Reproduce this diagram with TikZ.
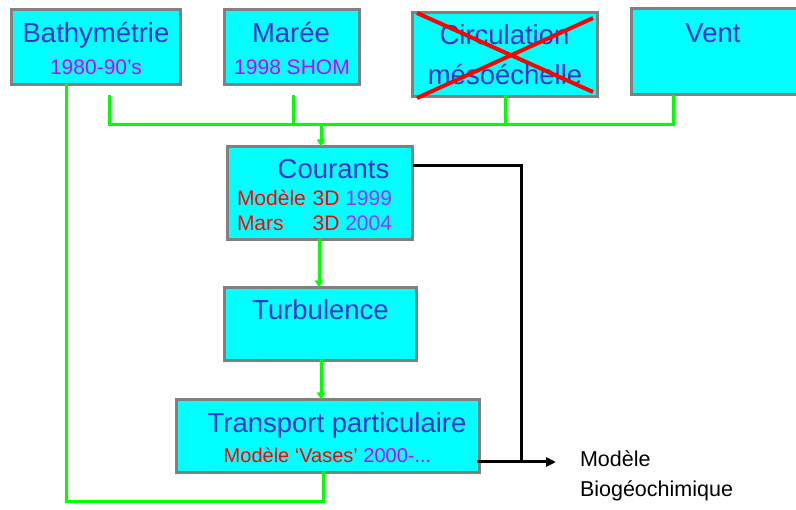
\documentclass[tikz,border=0pt]{standalone}
\usepackage{fontspec}
\setmainfont{Liberation Sans}
\usetikzlibrary{arrows.meta}
\definecolor{boxfill}{HTML}{00FFFF}
\definecolor{boxdraw}{HTML}{808080}
\definecolor{tblue}{HTML}{3333CC}
\definecolor{tmag}{HTML}{CC00FF}
\definecolor{tpur}{HTML}{9933FF}
\definecolor{tred}{HTML}{FF0000}
\definecolor{lgreen}{HTML}{00FF00}
\newcommand\fbig{\fontsize{27.5}{32}\selectfont}
\newcommand\fmid{\fontsize{21}{25}\selectfont}
\newcommand\fsml{\fontsize{20}{24}\selectfont}
\newcommand\fout{\fontsize{21.5}{25}\selectfont}
\begin{document}
\begin{tikzpicture}[x=1pt,y=-1pt,
  box/.style={draw=boxdraw,fill=boxfill,line width=3pt,rectangle,inner sep=0pt,outer sep=0pt},
  lbl/.style={inner sep=0pt,outer sep=0pt,anchor=base},
  gline/.style={draw=lgreen,line width=3pt},
  garrow/.style={gline,-{Triangle[width=8pt,length=7pt]}},
  kline/.style={draw=black,line width=3pt},
  karrow/.style={kline,-{Triangle[width=9pt,length=10pt]}},
  cross/.style={draw=tred,line width=4pt}]
\useasboundingbox (0,0) rectangle (796,510);
\clip (0,0) rectangle (796,510);
% boxes
\node[box,minimum width=169pt,minimum height=75pt] (bathy) at (96,47) {};
\node[box,minimum width=135pt,minimum height=75pt] (maree) at (292,47) {};
\node[box,minimum width=185pt,minimum height=84pt] (circ) at (505,54.5) {};
\node[box,minimum width=180pt,minimum height=86pt] (vent) at (721.5,52) {};
\node[box,minimum width=185pt,minimum height=93pt] (courants) at (320,193) {};
\node[box,minimum width=192pt,minimum height=73pt] (turb) at (320.5,324) {};
\node[box,minimum width=303pt,minimum height=73pt] (trans) at (328,436) {};
% texts
\node[lbl,text=tblue] (tbathy) at (96,43) {\fbig Bathymétrie};
\node[lbl,text=tmag] (sbathy) at (96,75) {\fmid 1980-90’s};
\node[lbl,text=tblue] (tmaree) at (291,43) {\fbig Marée};
\node[lbl,text=tmag] (smaree) at (292,75) {\fmid 1998 SHOM};
\node[lbl,text=tblue] (tcirc1) at (504.5,45) {\fbig Circulation};
\node[lbl,text=tblue] (tcirc2) at (505,85) {\fbig mésoéchelle};
\node[lbl,text=tblue] (tvent) at (713,43) {\fbig Vent};
\node[lbl,text=tblue] (tcour) at (333.5,179) {\fbig Courants};
\node[lbl,anchor=base west,text=tred] (mod1) at (237,206) {\fmid Modèle};
\node[lbl,anchor=base east,text=tred] (mod1b) at (392,206) {\fmid 3D \textcolor{tpur}{1999}};
\node[lbl,anchor=base west,text=tred] (mars) at (237,231) {\fmid Mars};
\node[lbl,anchor=base east,text=tred] (marsb) at (392,231) {\fmid 3D \textcolor{tpur}{2004}};
\node[lbl,text=tblue] (tturb) at (320.5,320) {\fbig Turbulence};
\node[lbl,text=tblue] (ttrans) at (337,433) {\fbig Transport particulaire};
\node[lbl,text=tred] (strans) at (327.5,463) {\fsml Modèle ‘Vases’ \textcolor{tmag}{2000-...}};
\node[lbl,anchor=base west] (bio1) at (580,467) {\fout Modèle};
\node[lbl,anchor=base west] (bio2) at (580,497) {\fout Biogéochimique};
% red cross
\draw[cross] (417,13) -- (593,92);
\draw[cross] (417,98) -- (593,18);
% green connectors
\coordinate (d1) at (109,95);
\coordinate (d2) at (293,95);
\coordinate (j1) at (109,125);
\coordinate (j2) at (293,125);
\coordinate (j3) at (505,125);
\coordinate (j4) at (673,125);
\coordinate (jm) at (321,125);
\draw[gline] (d1) -- (j1) -- (j4) -- (vent.south -| j4);
\draw[gline] (d2) -- (j2);
\draw[gline] (circ.south -| j3) -- (j3);
\draw[garrow] (jm) -- (courants.north -| jm);
\draw[garrow] (courants.south -| 319,0) -- (turb.north -| 319,0);
\draw[garrow] (turb.south -| 321,0) -- (trans.north -| 321,0);
\coordinate (b1) at (66,502);
\coordinate (b2) at (323,502);
\draw[gline] (bathy.south -| b1) -- (b1) -- (b2) -- (trans.south -| b2);
% black connectors
\coordinate (k1) at (521,166);
\coordinate (k2) at (521,462);
\coordinate (kend) at (556,462);
\draw[kline] (courants.east |- k1) -- (k1) -- (k2);
\draw[karrow] ([xshift=-3pt]trans.east |- k2) -- (kend);
\end{tikzpicture}
\end{document}
